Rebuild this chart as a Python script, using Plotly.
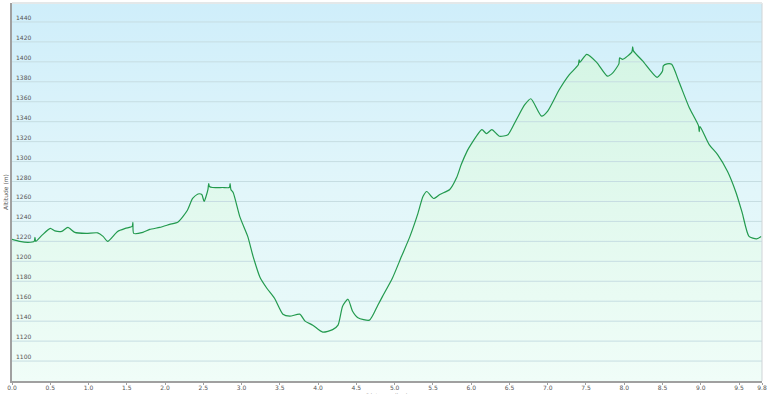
import plotly.graph_objects as go

distance_km = [0.00, 0.10, 0.21, 0.29, 0.30, 0.31, 0.39, 0.50, 0.56, 0.65, 0.73, 0.82, 0.97,
               1.12, 1.19, 1.25, 1.38, 1.48, 1.57, 1.58, 1.59, 1.71, 1.80, 1.93, 2.06,
               2.17, 2.29, 2.36, 2.43, 2.48, 2.51, 2.56, 2.57, 2.58, 2.62, 2.75, 2.84, 2.85,
               2.86, 2.89, 2.98, 3.08, 3.15, 3.24, 3.33, 3.43, 3.54, 3.63, 3.76, 3.83,
               3.93, 4.06, 4.19, 4.26, 4.32, 4.39, 4.45, 4.52, 4.67, 4.78, 4.84, 4.97,
               5.09, 5.20, 5.30, 5.37, 5.42, 5.51, 5.59, 5.72, 5.81, 5.87, 5.95, 5.98,
               6.14, 6.20, 6.27, 6.37, 6.48, 6.59, 6.70, 6.78, 6.92, 7.00, 7.15, 7.28,
               7.40, 7.41, 7.42, 7.51, 7.64, 7.78, 7.85, 7.93, 7.94, 7.98, 8.10, 8.11,
               8.12, 8.24, 8.43, 8.50, 8.51, 8.56, 8.62, 8.72, 8.85, 8.97, 8.98, 8.99,
               9.11, 9.22, 9.35, 9.46, 9.54, 9.63, 9.73, 9.79]
altitude_m = [1222, 1220, 1219, 1220, 1224, 1220, 1226, 1233, 1230.5, 1230, 1234, 1229, 1228,
              1228.5, 1225, 1220, 1230, 1233, 1235, 1239, 1228, 1229, 1232, 1234, 1237,
              1239.5, 1251, 1263, 1267.5, 1267, 1260, 1272, 1278, 1275, 1274, 1274, 1274, 1278,
              1272, 1269, 1244, 1225, 1205, 1184, 1173, 1163, 1147, 1145, 1147, 1140,
              1136, 1129, 1131.5, 1136, 1155, 1162, 1150, 1143.5, 1141, 1156, 1164.6, 1183,
              1205, 1225, 1247, 1265, 1270, 1263, 1267, 1272, 1284, 1297, 1311, 1315,
              1332, 1328, 1332, 1325.4, 1327, 1342, 1357, 1363, 1345.5, 1350.6, 1372, 1387,
              1397, 1402, 1399.5, 1407.5, 1399.5, 1385.7, 1389, 1398, 1404, 1402.5, 1410, 1415,
              1411, 1401, 1384.4, 1390.8, 1396, 1398, 1397.5, 1379, 1354, 1336, 1330, 1335,
              1317, 1307, 1290, 1269, 1249, 1225, 1222.6, 1225]

y_ticks = list(range(1100, 1441, 20))
x_ticks = [0.0, 0.5, 1.0, 1.5, 2.0, 2.5, 3.0, 3.5, 4.0, 4.5, 5.0, 5.5, 6.0, 6.5, 7.0, 7.5,
           8.0, 8.5, 9.0, 9.5, 9.8]
x_tick_text = [f"{v:.1f}" for v in x_ticks]

X_MAX = 9.8
Y_MIN, Y_MAX = 1080, 1459
TXT = "#555555"

fig = go.Figure()

# background gradient (sky)
fig.add_trace(go.Scatter(
    x=[0, X_MAX], y=[Y_MAX, Y_MAX], mode="none", fill="tozeroy",
    fillgradient=dict(type="vertical", start=Y_MIN, stop=Y_MAX,
                      colorscale=[[0, "#ebfbf8"], [0.5, "#e2f6fa"], [1, "#cfeefa"]]),
    hoverinfo="skip", showlegend=False))

# area under the profile
fig.add_trace(go.Scatter(
    x=distance_km, y=altitude_m, mode="none", fill="tozeroy", line_shape="spline",
    fillgradient=dict(type="vertical", start=Y_MIN, stop=1420,
                      colorscale=[[0, "#f0fdf8"], [1, "#d4f5e4"]]),
    hoverinfo="skip", showlegend=False))

# horizontal gridlines (from tick values) drawn over fills
gx, gy = [], []
for t in y_ticks:
    gx += [0, X_MAX, None]
    gy += [t, t, None]
fig.add_trace(go.Scatter(x=gx, y=gy, mode="lines",
                         line=dict(color="#c6dde2", width=1),
                         hoverinfo="skip", showlegend=False))

# profile line
fig.add_trace(go.Scatter(x=distance_km, y=altitude_m, mode="lines",
                         line=dict(color="#239a4e", width=1.2, shape="spline", smoothing=0.6),
                         showlegend=False))

# y tick labels drawn inside the plot, just above each gridline
annotations = [dict(x=0, xref="x", y=t, yref="y", text=str(t), showarrow=False,
                    xanchor="left", yanchor="bottom", xshift=2, yshift=-1,
                    font=dict(size=6, color=TXT))
               for t in y_ticks]
annotations.append(dict(x=0.5, xref="paper", y=-0.024, yref="paper", text="Distance (km)",
                        showarrow=False, xanchor="center", yanchor="top",
                        font=dict(size=6, color=TXT)))

fig.update_layout(
    width=767, height=394,
    margin=dict(l=12, r=5, t=3, b=13),
    paper_bgcolor="#ffffff",
    plot_bgcolor="#e2f6fa",
    font=dict(family="DejaVu Sans", size=6, color=TXT),
    xaxis=dict(range=[0, X_MAX], tickvals=x_ticks, ticktext=x_tick_text,
               automargin=False, ticklabeloverflow="allow", ticklabelstandoff=-2,
               showgrid=False, zeroline=False, showline=True, linecolor="#a0a0a0",
               linewidth=2, ticks="outside", ticklen=2, tickcolor="#a0a0a0",
               tickfont=dict(size=6, color=TXT)),
    yaxis=dict(range=[Y_MIN, Y_MAX], tickvals=y_ticks, showgrid=False, zeroline=False,
               automargin=False, showticklabels=False,
               showline=True, linecolor="#a0a0a0", linewidth=2,
               title=dict(text="Altitude (m)", font=dict(size=6, color=TXT), standoff=1)),
    annotations=annotations,
    shapes=[dict(type="line", xref="paper", yref="paper", x0=1, x1=1, y0=0, y1=1,
                 line=dict(color="#d0d4d6", width=1)),
            dict(type="line", xref="paper", yref="paper", x0=0, x1=1, y0=1, y1=1,
                 line=dict(color="#e4e8e9", width=2))],
)

fig.write_html("out.html")
